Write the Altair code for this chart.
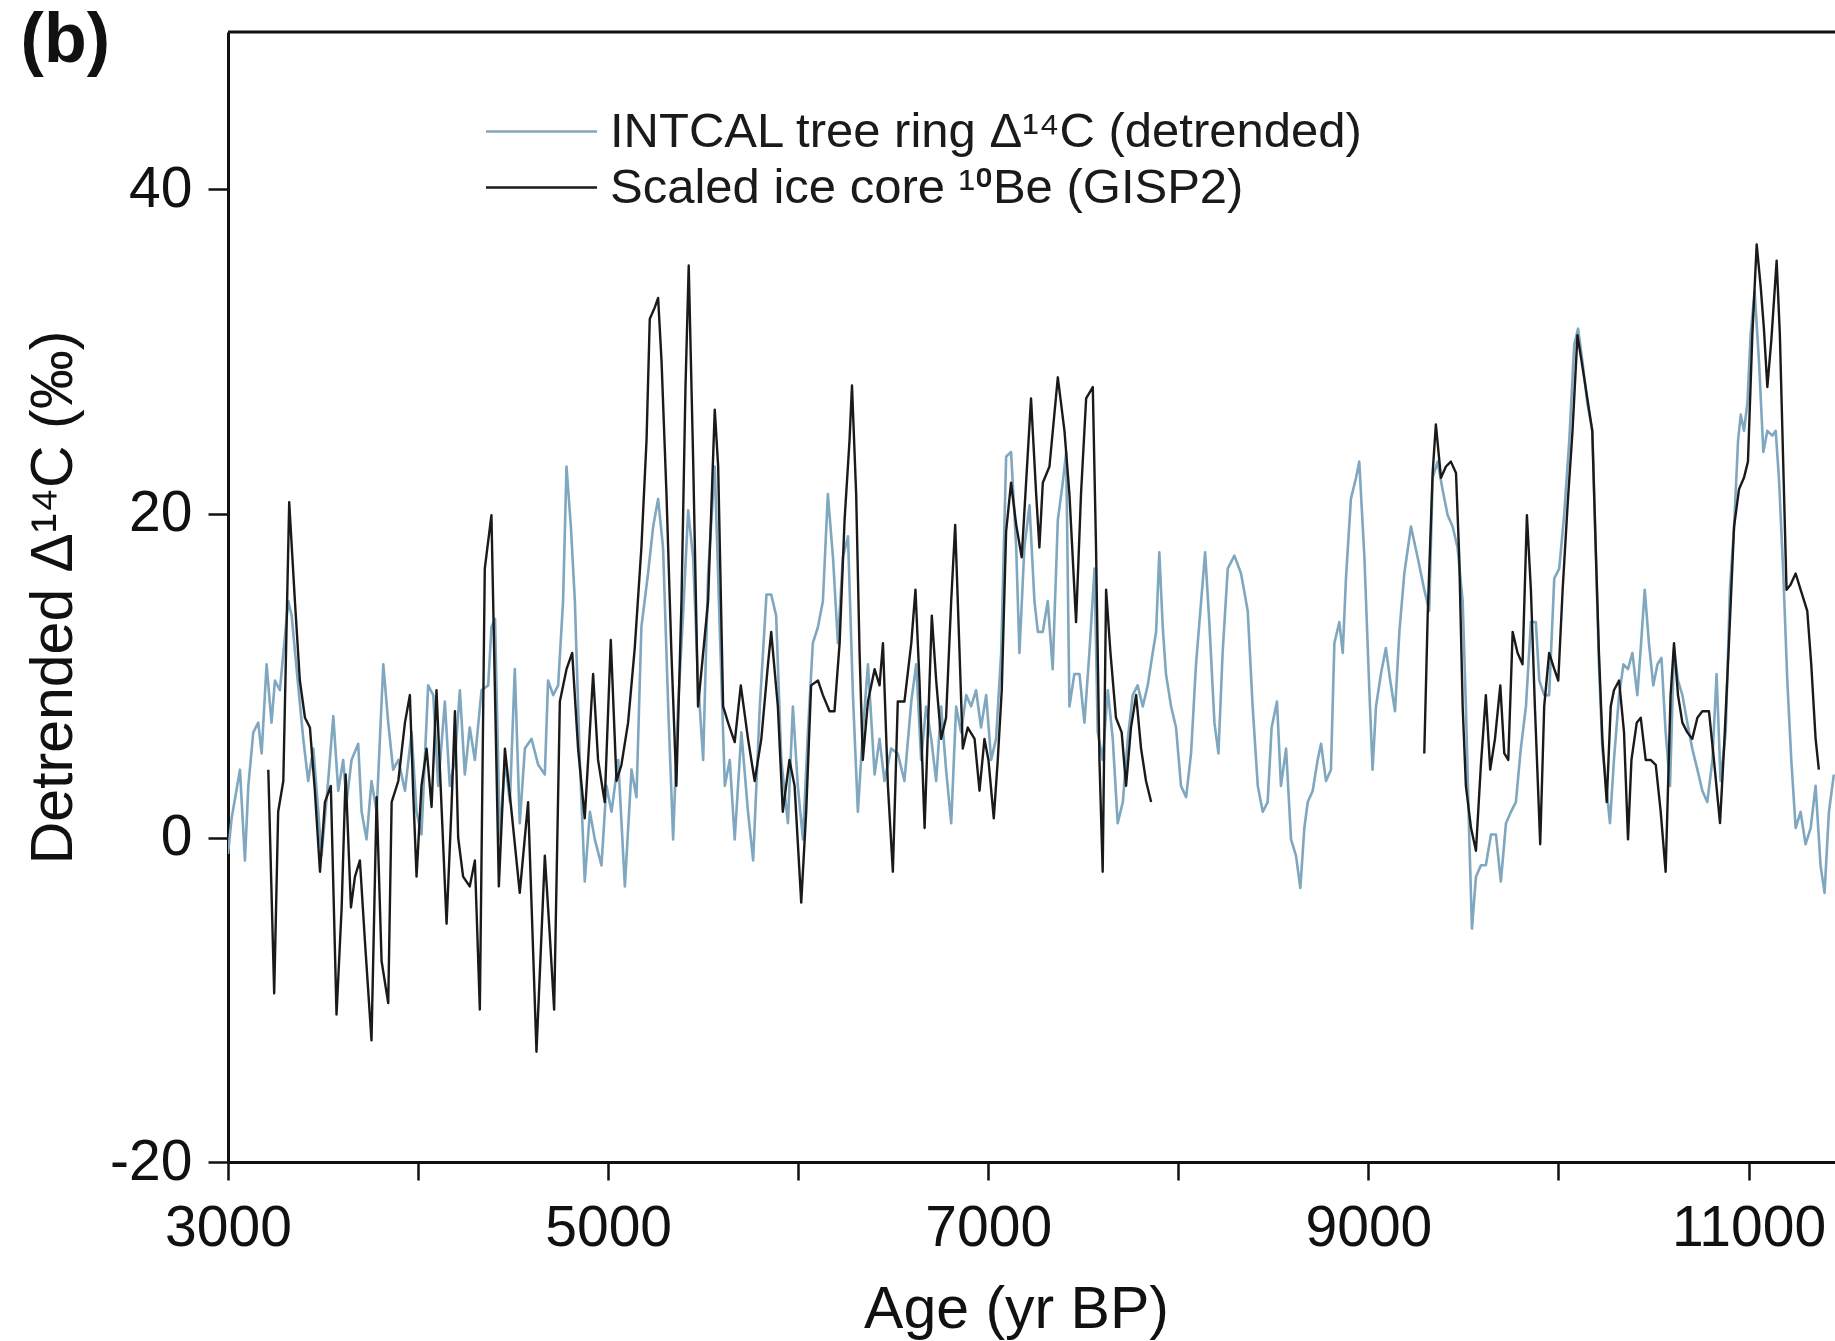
import altair as alt
import pandas as pd

# INTCAL tree ring Δ14C (detrended)
intcal_age = [3000, 3019, 3063, 3089, 3107, 3133, 3159, 3177, 3203, 3229, 3247, 3273, 3317, 3335, 3361,
              3396, 3422, 3449, 3475, 3492, 3527, 3554, 3580, 3606, 3624, 3650, 3685, 3703, 3729, 3755,
              3782, 3817, 3843, 3869, 3896, 3931, 3966, 3992, 4018, 4053, 4080, 4106, 4141, 4167, 4194,
              4220, 4246, 4272, 4299, 4334, 4369, 4386, 4405, 4430, 4457, 4483, 4509, 4535, 4562, 4597,
              4632, 4667, 4684, 4711, 4737, 4763, 4781, 4804, 4825, 4851, 4877, 4904, 4930, 4965, 4991,
              5018, 5053, 5088, 5123, 5149, 5175, 5210, 5237, 5263, 5289, 5316, 5342, 5368, 5394, 5421,
              5447, 5473, 5500, 5526, 5561, 5587, 5614, 5640, 5666, 5701, 5736, 5763, 5798, 5833, 5858,
              5884, 5911, 5946, 5972, 5998, 6025, 6051, 6077, 6104, 6130, 6156, 6183, 6209, 6235, 6262,
              6288, 6314, 6340, 6367, 6402, 6428, 6454, 6489, 6524, 6559, 6595, 6621, 6647, 6673, 6700,
              6726, 6752, 6778, 6805, 6831, 6857, 6884, 6910, 6936, 6962, 6989, 7015, 7041, 7068, 7094,
              7120, 7147, 7164, 7190, 7217, 7243, 7261, 7287, 7313, 7339, 7366, 7392, 7410, 7427, 7453,
              7480, 7506, 7532, 7559, 7576, 7602, 7629, 7655, 7681, 7708, 7734, 7760, 7786, 7813, 7839,
              7865, 7883, 7900, 7918, 7935, 7962, 7988, 8014, 8041, 8067, 8093, 8120, 8141, 8163, 8190,
              8211, 8233, 8260, 8295, 8330, 8365, 8391, 8418, 8444, 8470, 8491, 8519, 8540, 8567, 8593,
              8619, 8642, 8663, 8681, 8707, 8733, 8751, 8777, 8803, 8821, 8847, 8865, 8882, 8908, 8935,
              8952, 8979, 9005, 9022, 9040, 9066, 9092, 9115, 9140, 9163, 9189, 9224, 9259, 9294, 9320,
              9338, 9364, 9390, 9417, 9443, 9469, 9496, 9513, 9531, 9545, 9566, 9592, 9618, 9645, 9671,
              9697, 9724, 9750, 9776, 9802, 9829, 9855, 9881, 9899, 9925, 9951, 9978, 10004, 10030, 10057,
              10083, 10103, 10126, 10152, 10178, 10196, 10213, 10231, 10249, 10271, 10292, 10319, 10342,
              10366, 10389, 10415, 10433, 10454, 10476, 10499, 10521, 10542, 10564, 10587, 10608, 10629,
              10652, 10678, 10704, 10731, 10757, 10783, 10810, 10832, 10853, 10880, 10902, 10924, 10945,
              10959, 10976, 10994, 11011, 11032, 11055, 11078, 11099, 11125, 11143, 11160, 11183, 11204,
              11225, 11248, 11274, 11300, 11327, 11353, 11379, 11400, 11423, 11449]
intcal_val = [-1.0, 1.2, 4.2, -1.4, 3.2, 6.5, 7.1, 5.2, 10.7, 7.1, 9.7, 9.1, 14.6, 13.7, 10.4,
              6.1, 3.5, 5.5, 1.6, -1.1, 3.5, 7.5, 2.9, 4.8, 2.2, 4.8, 5.8, 1.6, -0.1, 3.5,
              1.6, 10.7, 7.1, 4.2, 4.8, 2.9, 6.5, 1.6, 0.2, 9.4, 8.8, 3.2, 8.4, 3.2, 4.8,
              9.1, 3.9, 6.8, 4.8, 9.1, 9.4, 13.0, 13.5, -0.1, 4.8, 2.2, 10.4, 0.9, 5.5, 6.1,
              4.5, 3.9, 9.7, 8.8, 9.4, 14.6, 22.9, 19.2, 14.6, 4.8, -2.7, 1.6, -0.1, -1.7, 3.2,
              1.6, 4.8, -3.0, 4.2, 2.5, 13.0, 16.3, 19.2, 20.9, 17.9, 8.1, -0.1, 8.1, 13.7, 20.2,
              17.3, 9.7, 4.8, 16.3, 22.9, 13.0, 3.2, 4.8, -0.1, 6.5, 1.6, -1.4, 8.1, 15.0, 15.0,
              13.7, 4.8, 0.9, 8.1, 3.2, -0.1, 6.5, 12.0, 13.0, 14.6, 21.2, 17.3, 12.0, 17.3, 18.6,
              8.8, 1.6, 6.5, 10.7, 3.9, 6.1, 3.5, 5.5, 5.2, 3.5, 8.4, 10.7, 4.8, 8.1, 6.1,
              3.5, 8.1, 4.2, 0.9, 8.1, 6.5, 8.8, 8.1, 9.1, 6.8, 8.8, 4.8, 6.1, 11.4, 23.5,
              23.8, 17.9, 11.4, 17.9, 20.5, 14.6, 12.7, 12.7, 14.6, 10.4, 19.6, 21.9, 23.8, 8.1, 10.1,
              10.1, 7.1, 11.4, 16.6, 6.5, 4.8, 9.1, 6.1, 0.9, 2.2, 6.1, 8.8, 9.4, 8.1, 9.4,
              11.4, 12.7, 17.6, 13.0, 10.1, 8.1, 6.8, 3.2, 2.5, 5.2, 10.7, 14.6, 17.6, 13.3, 7.1,
              5.2, 11.4, 16.6, 17.4, 16.3, 14.0, 8.1, 3.2, 1.6, 2.2, 6.8, 8.4, 3.2, 5.5, -0.1,
              -1.1, -3.1, 0.6, 2.2, 2.9, 4.8, 5.8, 3.5, 4.2, 12.0, 13.3, 11.4, 16.0, 20.9, 22.2,
              23.2, 17.3, 9.1, 4.2, 8.1, 10.1, 11.7, 9.7, 7.8, 12.7, 16.3, 19.2, 17.3, 15.3, 14.0,
              22.2, 23.2, 21.5, 19.9, 19.2, 17.9, 14.6, 8.1, -0.1, -5.6, -2.4, -1.7, -1.7, 0.2, 0.2,
              -2.7, 0.9, 1.6, 2.2, 5.5, 8.1, 13.3, 13.3, 9.7, 8.8, 8.8, 16.0, 16.6, 19.9, 24.5,
              30.4, 31.4, 29.4, 26.8, 25.1, 17.9, 10.7, 5.5, 3.5, 0.9, 4.8, 8.8, 10.7,
              10.4, 11.4, 8.8, 11.7, 15.3, 12.0, 9.4, 10.7, 11.1, 6.5, 3.2, 11.7, 9.7,
              8.8, 7.1, 5.5, 4.2, 2.9, 2.2, 4.8, 10.1, 3.5, 6.5, 15.3, 19.2, 24.5,
              26.1, 25.1, 26.8, 31.0, 33.7, 29.4, 23.8, 25.1, 24.8, 25.1, 22.2, 16.3, 9.7,
              4.8, 0.6, 1.6, -0.4, 0.6, 3.2, -1.7, -3.4, 1.6, 3.9]

# Scaled ice core 10Be (GISP2), two segments (gap between ~7860 and ~9290 yr BP)
be_age_a = [3212, 3243, 3264, 3291, 3322, 3352, 3378, 3405, 3431, 3457, 3484, 3510, 3541, 3571, 3598,
            3619, 3647, 3668, 3694, 3720, 3755, 3782, 3808, 3843, 3861, 3896, 3931, 3957, 3974, 3992,
            4018, 4045, 4071, 4097, 4150, 4176, 4194, 4211, 4237, 4272, 4299, 4325, 4351, 4386, 4425,
            4457, 4492, 4535, 4579, 4623, 4667, 4693, 4716, 4746, 4781, 4811, 4842, 4877, 4921, 4947,
            4982, 5014, 5044, 5070, 5105, 5140, 5175, 5202, 5219, 5245, 5263, 5281, 5307, 5333, 5359,
            5386, 5407, 5424, 5447, 5473, 5526, 5561, 5579, 5605, 5631, 5666, 5698, 5736, 5771, 5806,
            5841, 5858, 5893, 5919, 5954, 5981, 6016, 6042, 6068, 6104, 6130, 6165, 6191, 6218, 6244,
            6270, 6283, 6305, 6323, 6340, 6367, 6402, 6428, 6446, 6472, 6498, 6524, 6559, 6595, 6617,
            6638, 6665, 6682, 6703, 6726, 6752, 6778, 6805, 6826, 6849, 6866, 6892, 6928, 6954, 6980,
            7001, 7029, 7050, 7071, 7094, 7120, 7147, 7176, 7199, 7225, 7252, 7269, 7287, 7322, 7366,
            7401, 7427, 7462, 7488, 7515, 7550, 7567, 7585, 7602, 7620, 7643, 7672, 7702, 7725, 7751,
            7778, 7804, 7830, 7857]
be_val_a = [4.2, -9.6, 1.6, 3.5, 20.7, 14.6, 9.7, 7.4, 6.8, 2.9, -2.1, 2.2, 3.2, -10.9, -4.3,
            3.9, -4.3, -2.4, -1.4, -6.3, -12.5, 2.5, -7.6, -10.2, 2.2, 3.5, 7.1, 8.8, 2.9, -2.4,
            3.2, 5.5, 1.9, 9.1, -5.3, 1.9, 7.8, 0.0, -2.4, -3.0, -1.4, -10.6, 16.6, 19.9, -3.0,
            5.5, 1.6, -3.4, 2.2, -13.2, -1.1, -6.0, -10.6, 8.4, 10.4, 11.4, 5.5, 1.2, 10.1, 4.8,
            2.2, 12.2, 3.5, 4.5, 7.1, 11.7, 17.9, 24.5, 32.0, 32.7, 33.3, 29.4, 21.2, 11.4, 3.2,
            14.6, 27.8, 35.3, 23.5, 8.1, 14.6, 26.4, 22.9, 8.1, 7.1, 5.9, 9.4, 6.1, 3.5, 6.1,
            10.7, 12.7, 8.1, 1.6, 4.8, 3.2, -4.0, 1.6, 9.4, 9.7, 8.8, 7.8, 7.8, 12.0, 19.6,
            24.5, 27.9, 21.2, 11.4, 4.8, 8.4, 10.4, 9.4, 12.0, 3.2, -2.1, 8.4, 8.4, 12.0, 15.3,
            9.7, 0.6, 6.5, 13.7, 9.7, 6.1, 7.4, 14.6, 19.3, 11.4, 5.5, 6.8, 6.1, 2.9, 6.1,
            4.8, 1.2, 4.8, 9.1, 18.9, 21.9, 19.3, 17.3, 21.9, 27.1, 21.2, 17.9, 21.9, 22.9, 28.4,
            25.1, 21.2, 13.3, 21.2, 27.1, 27.8, 17.9, 4.8, -2.1, 15.3, 11.4, 7.4, 6.5, 3.2, 6.8,
            8.8, 5.5, 3.5, 2.2]
be_age_b = [9294, 9312, 9338, 9355, 9382, 9408, 9434, 9461, 9478, 9496, 9513, 9540, 9566, 9592, 9618,
            9641, 9666, 9694, 9715, 9736, 9759, 9785, 9811, 9834, 9855, 9876, 9904, 9925, 9951, 9978,
            9999, 10022, 10048, 10074, 10100, 10135, 10178, 10196, 10213, 10231, 10254, 10275, 10292,
            10319, 10345, 10366, 10384, 10412, 10433, 10459, 10485, 10512, 10538, 10564, 10590, 10608,
            10629, 10652, 10678, 10704, 10731, 10757, 10792, 10818, 10850, 10871, 10897, 10924, 10950,
            10976, 10997, 11020, 11043, 11064, 11081, 11099, 11120, 11148, 11165, 11183, 11200, 11221,
            11248, 11274, 11309, 11330, 11353, 11370]
be_val_b = [5.2, 13.7, 22.5, 25.5, 22.2, 22.9, 23.2, 22.5, 17.3, 8.1, 3.2, 0.6, -0.8, 4.5, 8.8,
            4.2, 6.1, 9.4, 5.2, 4.8, 12.7, 11.4, 10.7, 19.9, 15.3, 8.1, -0.4, 8.1, 11.4, 10.4,
            9.7, 15.3, 20.5, 25.1, 31.0, 28.4, 25.1, 17.9, 11.4, 6.1, 2.2, 8.1, 9.1,
            9.7, 6.5, -0.1, 4.8, 7.1, 7.4, 4.8, 4.8, 4.5, 1.6, -2.1, 8.8, 12.0,
            8.8, 7.1, 6.5, 6.1, 7.4, 7.8, 7.8, 4.8, 0.9, 5.5, 12.0, 19.2, 21.5,
            22.2, 23.2, 31.0, 36.6, 34.0, 31.4, 27.8, 30.7, 35.6, 31.0, 22.9, 15.3, 15.6,
            16.3, 15.3, 14.0, 10.7, 6.1, 4.2]

series_names = ["INTCAL tree ring \u0394\u00b9\u2074C (detrended)", "Scaled ice core \u00b9\u2070Be (GISP2)"]
series_colors = ["#7fa7bf", "#1a1a1a"]
x_ticks = [3000, 4000, 5000, 6000, 7000, 8000, 9000, 10000, 11000]
y_ticks = [-20, 0, 20, 40]
x_domain = [3000, 11455]
y_domain = [-20, 49.7]

df_blue = pd.DataFrame({"age": intcal_age, "val": intcal_val, "series": series_names[0], "seg": "c"})
df_black = pd.concat([
    pd.DataFrame({"age": be_age_a, "val": be_val_a, "series": series_names[1], "seg": "a"}),
    pd.DataFrame({"age": be_age_b, "val": be_val_b, "series": series_names[1], "seg": "b"}),
])

FONT = "Liberation Sans, Roboto, Noto Sans, sans-serif"

x_enc = alt.X("age:Q", scale=alt.Scale(domain=x_domain, nice=False, zero=False),
              axis=alt.Axis(values=x_ticks, title="Age (yr BP)", tickSize=18,
                            labelExpr="datum.value % 2000 == 1000 ? '' + datum.value : ''",
                            labelPadding=20, titlePadding=24, titleX=788,
                            labelFlush=False, labelOverlap=False, grid=False))
y_enc = alt.Y("val:Q", scale=alt.Scale(domain=y_domain, nice=False, zero=False),
              axis=alt.Axis(values=y_ticks, title="Detrended \u0394\u00b9\u2074C (\u2030)", tickSize=20,
                            labelExpr="'' + datum.value", labelPadding=16, titlePadding=26,
                            grid=False))
color_enc = alt.Color("series:N",
                      scale=alt.Scale(domain=series_names, range=series_colors),
                      legend=alt.Legend(orient="none", legendX=289, legendY=75, title=None,
                                        symbolType="M-4,0H4", symbolSize=770, symbolStrokeWidth=2.5,
                                        symbolFillColor="transparent",
                                        labelFontSize=49, labelFont=FONT, labelColor="#1a1a1a",
                                        labelOffset=44, rowPadding=6, labelLimit=2000, padding=0))

blue = alt.Chart(df_blue).mark_line(strokeWidth=2.6, strokeJoin="round", clip=True).encode(
    x=x_enc, y=y_enc, color=color_enc, detail="seg:N")
black = alt.Chart(df_black).mark_line(strokeWidth=2.4, strokeJoin="round", clip=True).encode(
    x=x_enc, y=y_enc, color=color_enc, detail="seg:N")
top_rule = alt.Chart(pd.DataFrame({"top": [y_domain[1]]})).mark_rule(color="#111", strokeWidth=3).encode(
    y=alt.Y("top:Q"))

chart = alt.layer(blue, black, top_rule).properties(
    width=1607, height=1130,
    autosize=alt.AutoSizeParams(type="none"),
    padding={"left": 228, "top": 32, "right": 0, "bottom": 179},
    background="white",
    title=alt.TitleParams("(b)", anchor="start", frame="bounds", fontSize=70, fontWeight="bold",
                          font=FONT, color="#111", dx=-4, dy=50),
).configure_view(stroke=None).configure_axis(
    domainColor="#111", domainWidth=3, tickColor="#111", tickWidth=2.5,
    labelFont=FONT, labelFontSize=57, labelColor="#111",
    titleFont=FONT, titleFontSize=59, titleFontWeight="normal", titleColor="#111",
)

chart.save("out.html", embed_options={"renderer": "svg", "actions": False})
